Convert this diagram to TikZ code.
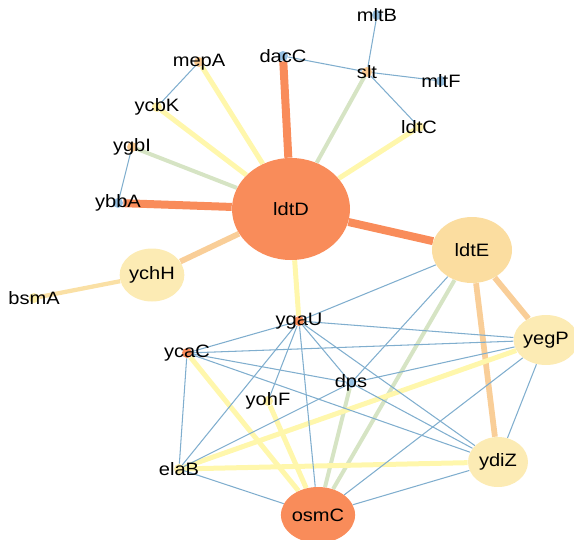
\documentclass[tikz,border=0pt]{standalone}
\usepackage{fontspec}
\setmainfont{Liberation Sans}[FakeStretch=1.12]
\usetikzlibrary{shapes.geometric,backgrounds}

\definecolor{hubOrange}{RGB}{249,140,90}
\definecolor{ldtEfill}{RGB}{251,221,160}
\definecolor{paleNode}{RGB}{252,235,180}
\definecolor{edgeYellow}{RGB}{255,247,172}
\definecolor{edgeGreen}{RGB}{214,228,196}
\definecolor{edgePeach}{RGB}{249,206,152}
\definecolor{edgeLight}{RGB}{250,224,165}
\definecolor{edgeBlue}{RGB}{128,174,206}
\definecolor{dotBlue}{RGB}{150,192,226}
\definecolor{dotPeach}{RGB}{250,202,145}
\definecolor{dotYellow}{RGB}{252,238,168}

\tikzset{
  bignode/.style={ellipse, fill=#1, inner sep=0pt},
  dotnode/.style={circle, fill=#1, inner sep=0pt, minimum size=2mm},
  heavy/.style={line width=1.6mm, hubOrange},
  yellowedge/.style={line width=1mm, edgeYellow},
  greenedge/.style={line width=0.8mm, edgeGreen},
  peachedge/.style={line width=1.15mm, edgePeach},
  thinedge/.style={line width=0.6pt, edgeBlue},
}

\begin{document}
\begin{tikzpicture}[x=0.2mm, y=-0.2mm, font=\fontsize{10.2pt}{12pt}\selectfont]
    \useasboundingbox (0,0) rectangle (574,539);
    % big nodes
    \node[bignode=hubOrange, minimum width=23.6mm, minimum height=20.4mm] (ldtD) at (291,209) {ldtD};
    \node[bignode=ldtEfill, minimum width=16mm, minimum height=13.2mm] (ldtE) at (472,250) {ldtE};
    \node[bignode=paleNode, minimum width=11.2mm, minimum height=10mm] (yegP) at (546,340) {yegP};
    \node[bignode=paleNode, minimum width=12mm, minimum height=10mm] (ydiZ) at (498,462) {ydiZ};
    \node[bignode=hubOrange, minimum width=12.8mm, minimum height=11.2mm] (osmC) at (318,515) {osmC};
    \node[bignode=paleNode, minimum width=12.8mm, minimum height=10.6mm] (ychH) at (152,275) {ychH};
    % small nodes, label on the dot
    \node[dotnode=dotYellow, label=center:bsmA] (bsmA) at (34,298) {};
    \node[dotnode=dotBlue, label=center:ybbA] (ybbA) at (118,203) {};
    \node[dotnode=dotPeach, label=center:ygbI] (ygbI) at (132,147) {};
    \node[dotnode=dotYellow, label=center:ycbK] (ycbK) at (157,107) {};
    \node[dotnode=dotPeach, label=center:mepA] (mepA) at (199,62) {};
    \node[dotnode=dotBlue, label=center:dacC] (dacC) at (283,56) {};
    \node[dotnode=dotPeach, label=center:slt] (slt) at (367,72) {};
    \node[dotnode=dotBlue, label=center:mltB] (mltB) at (377,15) {};
    \node[dotnode=dotBlue, label=center:mltF] (mltF) at (441,81) {};
    \node[dotnode=dotYellow, label=center:ldtC] (ldtC) at (419,127) {};
    \node[dotnode=hubOrange, label=center:ygaU] (ygaU) at (299,321) {};
    \node[dotnode=hubOrange, label=center:ycaC] (ycaC) at (187,353) {};
    \node[dotnode=dotYellow, label=center:yohF] (yohF) at (268,401) {};
    \node[dotnode=dotBlue, label=center:dps] (dps) at (351,383) {};
    \node[dotnode=dotYellow, label=center:elaB] (elaB) at (179,469) {};
    % edges behind the nodes
    \begin{scope}[on background layer]
    \draw[heavy] (ldtD) -- (dacC);
    \draw[heavy] (ldtD) -- (ybbA);
    \draw[heavy] (ldtD) -- (ldtE);
    \draw[yellowedge] (ldtD) -- (mepA);
    \draw[yellowedge] (ldtD) -- (ycbK);
    \draw[yellowedge] (ldtD) -- (ldtC);
    \draw[yellowedge] (ldtD) -- (ygaU);
    \draw[greenedge] (ldtD) -- (ygbI);
    \draw[greenedge] (ldtD) -- (slt);
    \draw[peachedge] (ldtD) -- (ychH);
    \draw[line width=0.85mm, edgeLight] (ychH) -- (bsmA);
    \draw[peachedge] (ldtE) -- (yegP);
    \draw[peachedge] (ldtE) -- (ydiZ);
    \draw[greenedge] (ldtE) -- (osmC);
    \draw[greenedge] (dps) -- (osmC);
    \draw[yellowedge] (ycaC) -- (osmC);
    \draw[yellowedge] (yohF) -- (osmC);
    \draw[yellowedge] (elaB) -- (yegP);
    \draw[yellowedge] (elaB) -- (ydiZ);
    % thin links
    \foreach \a/\b in {mepA/ycbK, ygbI/ybbA, dacC/slt, slt/mltB, slt/mltF, slt/ldtC,
        ldtE/ygaU, ldtE/dps, ygaU/ycaC, ygaU/yegP, ygaU/ydiZ, ygaU/dps, ygaU/osmC,
        ygaU/elaB, ygaU/yohF, ycaC/yegP, ycaC/dps, ycaC/ydiZ, ycaC/elaB,
        dps/yegP, dps/ydiZ, dps/elaB, yegP/ydiZ, yegP/osmC, ydiZ/osmC, elaB/osmC}
        \draw[thinedge] (\a) -- (\b);
    \end{scope}
\end{tikzpicture}
\end{document}
